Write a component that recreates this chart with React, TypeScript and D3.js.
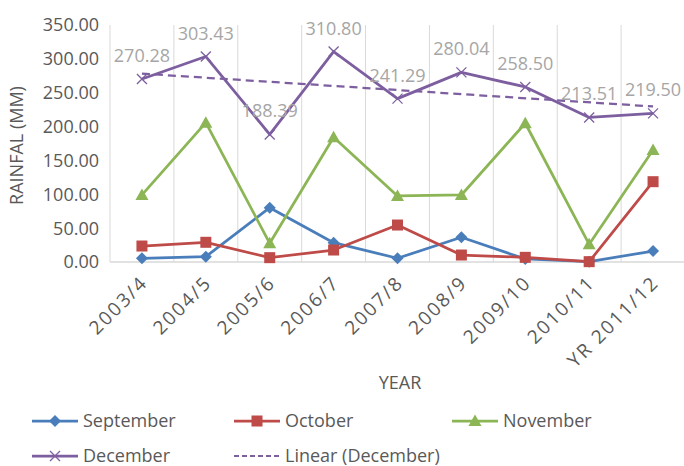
import React, { useRef, useEffect } from 'react';
import * as d3 from 'd3';

// Chart data
const years = ['2003/4', '2004/5', '2005/6', '2006/7', '2007/8', '2008/9', '2009/10', '2010/11', 'YR 2011/12'];
const september = [5.5, 7.9, 80.2, 28.5, 5.5, 36.5, 4.5, 0.5, 16.2];
const october = [23.6, 29.1, 6.4, 17.7, 54.6, 10.3, 6.9, 0.5, 118.6];
const november = [99.0, 205.8, 27.6, 184.2, 97.5, 99.0, 204.9, 26.1, 165.4];
const december = [270.28, 303.43, 188.39, 310.8, 241.29, 280.04, 258.5, 213.51, 219.5];
const yTicks = [0, 50, 100, 150, 200, 250, 300, 350];

const FONT = '"Open Sans", sans-serif';
const TEXT = '#595959';

const App = () => {
  const chartRef = useRef(null);

  useEffect(() => {
    const width = 684;
    const height = 466;
    const left = 110;
    const right = 685;
    const top = 25;
    const bottom = 262;

    d3.select(chartRef.current).selectAll('*').remove();

    const svg = d3
      .select(chartRef.current)
      .append('svg')
      .attr('width', width)
      .attr('height', height)
      .style('position', 'absolute')
      .style('left', '0px')
      .style('top', '0px')
      .style('background', '#fff')
      .style('font-family', FONT);

    const x = d3.scaleBand().domain(years).range([left, right]).padding(0);
    const cx = (d) => x(d) + x.bandwidth() / 2;
    const y = d3.scaleLinear().domain([0, 350]).range([bottom, top]);

    // vertical gridlines at category edges
    const edges = years.map((d) => x(d)).concat([right]);
    svg
      .selectAll('.grid')
      .data(edges)
      .enter()
      .append('line')
      .attr('x1', (d) => d)
      .attr('x2', (d) => d)
      .attr('y1', top)
      .attr('y2', bottom)
      .attr('stroke', '#D9D9D9')
      .attr('stroke-width', 1);

    // baseline
    svg
      .append('line')
      .attr('x1', left)
      .attr('x2', right)
      .attr('y1', bottom)
      .attr('y2', bottom)
      .attr('stroke', '#D9D9D9')
      .attr('stroke-width', 1.3);

    // y tick labels
    svg
      .selectAll('.ytick')
      .data(yTicks)
      .enter()
      .append('text')
      .attr('x', 99)
      .attr('y', (d) => y(d))
      .attr('dy', '0.36em')
      .attr('text-anchor', 'end')
      .attr('font-size', 18)
      .attr('fill', TEXT)
      .text((d) => d3.format('.2f')(d));

    // x tick labels
    svg
      .selectAll('.xtick')
      .data(years)
      .enter()
      .append('text')
      .attr('transform', (d) => `translate(${cx(d) + 7},${bottom + 22}) rotate(-45)`)
      .attr('text-anchor', 'end')
      .attr('font-size', 19)
      .attr('letter-spacing', 2)
      .attr('fill', TEXT)
      .text((d) => d);

    // axis titles
    svg
      .append('text')
      .attr('transform', `translate(23,${(top + bottom) / 2 + 2}) rotate(-90)`)
      .attr('text-anchor', 'middle')
      .attr('font-size', 18)
      .attr('fill', TEXT)
      .text('RAINFAL (MM)');

    svg
      .append('text')
      .attr('x', 400)
      .attr('y', 389)
      .attr('text-anchor', 'middle')
      .attr('font-size', 18)
      .attr('fill', TEXT)
      .text('YEAR');

    const series = [
      { name: 'September', values: september, color: '#4A7EBB', marker: 'diamond' },
      { name: 'October', values: october, color: '#BE4B48', marker: 'square' },
      { name: 'November', values: november, color: '#8CB555', marker: 'triangle' },
      { name: 'December', values: december, color: '#7D5FA0', marker: 'x' },
    ];

    const drawMarker = (g, kind, color, px, py) => {
      if (kind === 'diamond') {
        g.append('path')
          .attr('d', `M${px},${py - 6}L${px + 6},${py}L${px},${py + 6}L${px - 6},${py}Z`)
          .attr('fill', color);
      } else if (kind === 'square') {
        g.append('rect')
          .attr('x', px - 5.5)
          .attr('y', py - 5.5)
          .attr('width', 11)
          .attr('height', 11)
          .attr('fill', color);
      } else if (kind === 'triangle') {
        g.append('path')
          .attr('d', `M${px},${py - 6.5}L${px + 6.5},${py + 5}L${px - 6.5},${py + 5}Z`)
          .attr('fill', color);
      } else {
        g.append('path')
          .attr('d', `M${px - 5},${py - 5}L${px + 5},${py + 5}M${px - 5},${py + 5}L${px + 5},${py - 5}`)
          .attr('stroke', color)
          .attr('stroke-width', 1.3)
          .attr('fill', 'none');
      }
    };

    const line = d3
      .line()
      .x((d) => d[0])
      .y((d) => d[1]);

    series.forEach((s) => {
      const pts = s.values.map((v, i) => [cx(years[i]), y(v)]);
      svg
        .append('path')
        .attr('d', line(pts))
        .attr('fill', 'none')
        .attr('stroke', s.color)
        .attr('stroke-width', 2.75)
        .attr('stroke-linejoin', 'round');
      const g = svg.append('g');
      pts.forEach((p) => drawMarker(g, s.marker, s.color, p[0], p[1]));
    });

    // linear trendline for December (least squares)
    const xs = december.map((_, i) => i + 1);
    const mx = d3.mean(xs);
    const my = d3.mean(december);
    const slope =
      d3.sum(xs.map((xi, i) => (xi - mx) * (december[i] - my))) / d3.sum(xs.map((xi) => (xi - mx) ** 2));
    const icpt = my - slope * mx;
    const trendPts = [1, xs.length].map((xi) => [cx(years[xi - 1]), y(icpt + slope * xi)]);
    svg
      .append('path')
      .attr('d', line(trendPts))
      .attr('fill', 'none')
      .attr('stroke', '#7D5FA0')
      .attr('stroke-width', 2.25)
      .attr('stroke-dasharray', '8,5');

    // December data labels
    svg
      .selectAll('.dlabel')
      .data(december)
      .enter()
      .append('text')
      .attr('x', (d, i) => cx(years[i]))
      .attr('y', (d) => y(d) - 17)
      .attr('text-anchor', 'middle')
      .attr('font-size', 18)
      .attr('fill', '#A6A6A6')
      .text((d) => d3.format('.2f')(d));

    // legend
    const legend = [
      { name: 'September', color: '#4A7EBB', marker: 'diamond', x: 32, y: 421 },
      { name: 'October', color: '#BE4B48', marker: 'square', x: 234, y: 421 },
      { name: 'November', color: '#8CB555', marker: 'triangle', x: 452, y: 421 },
      { name: 'December', color: '#7D5FA0', marker: 'x', x: 32, y: 456 },
      { name: 'Linear (December)', color: '#7D5FA0', marker: 'dash', x: 234, y: 456 },
    ];
    legend.forEach((l) => {
      const g = svg.append('g');
      g.append('line')
        .attr('x1', l.x)
        .attr('x2', l.x + 46)
        .attr('y1', l.y)
        .attr('y2', l.y)
        .attr('stroke', l.color)
        .attr('stroke-width', l.marker === 'dash' ? 2 : 2.75)
        .attr('stroke-dasharray', l.marker === 'dash' ? '5,3' : null);
      if (l.marker !== 'dash') drawMarker(g, l.marker, l.color, l.x + 23, l.y);
      g.append('text')
        .attr('x', l.x + 51)
        .attr('y', l.y)
        .attr('dy', '0.33em')
        .attr('font-size', 18)
        .attr('fill', TEXT)
        .text(l.name);
    });
  }, []);

  return <div ref={chartRef}></div>;
};

export default App;
